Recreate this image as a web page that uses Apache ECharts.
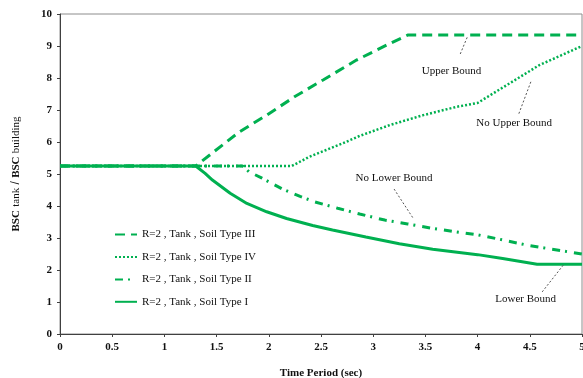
<!DOCTYPE html>
<html>
<head>
<meta charset="utf-8">
<script src="https://cdn.jsdelivr.net/npm/echarts@6/dist/echarts.min.js"></script>
<style>
  html, body { margin: 0; padding: 0; background: #fff; }
  #chart { width: 583px; height: 378px; }
</style>
</head>
<body>
<div id="chart"></div>
<script>
// Ratio of base shear coefficient (tank / building) vs. period, R=2
const xTicks = { min: 0, max: 5, interval: 0.5 };
const yTicks = { min: 0, max: 10, interval: 1 };

// Soil Type III (upper bound)
const soil3T = [0, 1.3, 1.46, 1.72, 1.98, 2.25, 2.52, 2.84, 3.16, 3.33, 5];
const soil3V = [5.25, 5.25, 5.66, 6.32, 6.84, 7.42, 7.94, 8.56, 9.08, 9.34, 9.34];

// Soil Type IV (no upper bound)
const soil4T = [0, 2.22, 2.39, 2.55, 2.71, 2.87, 3.16, 3.48, 3.8, 4.0, 4.28, 4.59, 5];
const soil4V = [5.25, 5.25, 5.54, 5.75, 5.96, 6.19, 6.53, 6.84, 7.1, 7.22, 7.78, 8.4, 9.0];

// Soil Type II (no lower bound)
const soil2T = [0, 1.75, 1.81, 1.93, 2.13, 2.3, 2.44, 2.66, 2.87, 3.11, 3.33, 3.57, 3.78, 4.0, 4.24, 4.47, 4.71, 5];
const soil2V = [5.25, 5.25, 5.07, 4.88, 4.53, 4.3, 4.13, 3.93, 3.75, 3.56, 3.44, 3.3, 3.2, 3.1, 2.94, 2.78, 2.65, 2.5];

// Soil Type I (lower bound)
const soil1T = [0, 1.3, 1.39, 1.46, 1.63, 1.79, 1.98, 2.17, 2.42, 2.61, 2.93, 3.25, 3.57, 4.0, 4.24, 4.57, 5];
const soil1V = [5.25, 5.25, 5.02, 4.81, 4.4, 4.08, 3.82, 3.61, 3.39, 3.25, 3.03, 2.82, 2.65, 2.48, 2.36, 2.18, 2.18];

const seriesNames = [
  'R=2 , Tank , Soil Type III',
  'R=2 , Tank , Soil Type IV',
  'R=2 , Tank , Soil Type II',
  'R=2 , Tank , Soil Type I'
];

// Callout texts with their label position and leader line ends (data units)
const noteText = ['Upper Bound', 'No Upper Bound', 'No Lower Bound', 'Lower Bound'];
const notePos = [[3.75, 8.2], [4.35, 6.6], [3.2, 4.87], [4.46, 1.1]];
const noteLineFrom = [[3.9, 9.27], [4.51, 7.88], [3.2, 4.53], [4.82, 2.15]];
const noteLineTo = [[3.83, 8.72], [4.39, 6.84], [3.38, 3.63], [4.61, 1.28]];

const pairs = (t, v) => t.map((x, i) => [x, v[i]]);
const GREEN = '#00B050';
const SERIF = '"Liberation Serif", "Times New Roman", serif';

const chart = echarts.init(document.getElementById('chart'), null, { renderer: 'canvas' });

const lineSeries = (name, data, width, dash) => ({
  name: name,
  type: 'line',
  data: data,
  showSymbol: false,
  symbol: 'none',
  smooth: false,
  lineStyle: { color: GREEN, width: width, type: dash, cap: 'butt' },
  itemStyle: { color: GREEN },
  z: 3
});

chart.setOption({
  animation: false,
  backgroundColor: '#fff',
  grid: {
    left: 60, right: 1, top: 14, bottom: 44,
    outerBoundsMode: 'none',
    containLabel: false,
    show: true, borderColor: '#8c8c8c', borderWidth: 1
  },
  legend: {
    data: seriesNames,
    orient: 'vertical',
    left: 109,
    top: 224,
    itemWidth: 22,
    itemHeight: 14,
    itemGap: 11.2,
    itemStyle: { opacity: 0 },
    textStyle: { fontFamily: SERIF, fontSize: 11, color: '#111' }
  },
  xAxis: {
    type: 'value',
    min: xTicks.min, max: xTicks.max, interval: xTicks.interval,
    name: 'Time Period (sec)',
    nameLocation: 'middle',
    nameGap: 34,
    nameTextStyle: { fontFamily: SERIF, fontSize: 11, fontWeight: 'bold', color: '#111' },
    axisLine: { lineStyle: { color: '#404040', width: 1 } },
    axisTick: { show: true, length: 3, inside: false, lineStyle: { color: '#404040' } },
    axisLabel: { fontFamily: SERIF, fontSize: 11, fontWeight: 'bold', color: '#111', margin: 8 },
    splitLine: { show: false }
  },
  yAxis: {
    type: 'value',
    min: yTicks.min, max: yTicks.max, interval: yTicks.interval,
    name: '{b|BSC} {n|tank} / {b|BSC} {n|building}',
    nameLocation: 'middle',
    nameGap: 38,
    nameRotate: 90,
    nameTextStyle: {
      color: '#111',
      rich: {
        b: { fontFamily: SERIF, fontSize: 11, fontWeight: 'bold', color: '#111' },
        n: { fontFamily: SERIF, fontSize: 11, color: '#111' }
      }
    },
    axisLine: { show: true, lineStyle: { color: '#404040', width: 1 } },
    axisTick: { show: true, length: 3, inside: false, lineStyle: { color: '#404040' } },
    axisLabel: { fontFamily: SERIF, fontSize: 11, fontWeight: 'bold', color: '#111', margin: 8 },
    splitLine: { show: false }
  },
  series: [
    lineSeries(seriesNames[0], pairs(soil3T, soil3V), 3, [10, 6]),
    lineSeries(seriesNames[1], pairs(soil4T, soil4V), 2.5, [2, 2]),
    lineSeries(seriesNames[2], pairs(soil2T, soil2V), 3, [8, 5, 2, 7]),
    lineSeries(seriesNames[3], pairs(soil1T, soil1V), 3, 'solid'),
    {
      name: 'notes',
      type: 'line',
      data: [],
      silent: true,
      markLine: {
        silent: true,
        symbol: ['none', 'none'],
        label: { show: false },
        lineStyle: { color: '#555', width: 1, type: [2, 2] },
        data: noteLineFrom.map((p, i) => [{ coord: p }, { coord: noteLineTo[i] }])
      },
      markPoint: {
        silent: true,
        symbol: 'circle',
        symbolSize: 0,
        label: {
          show: true,
          position: 'inside',
          fontFamily: SERIF,
          fontSize: 11,
          color: '#111',
          formatter: p => p.name
        },
        data: notePos.map((p, i) => ({ name: noteText[i], coord: p }))
      }
    }
  ]
});
</script>
</body>
</html>
